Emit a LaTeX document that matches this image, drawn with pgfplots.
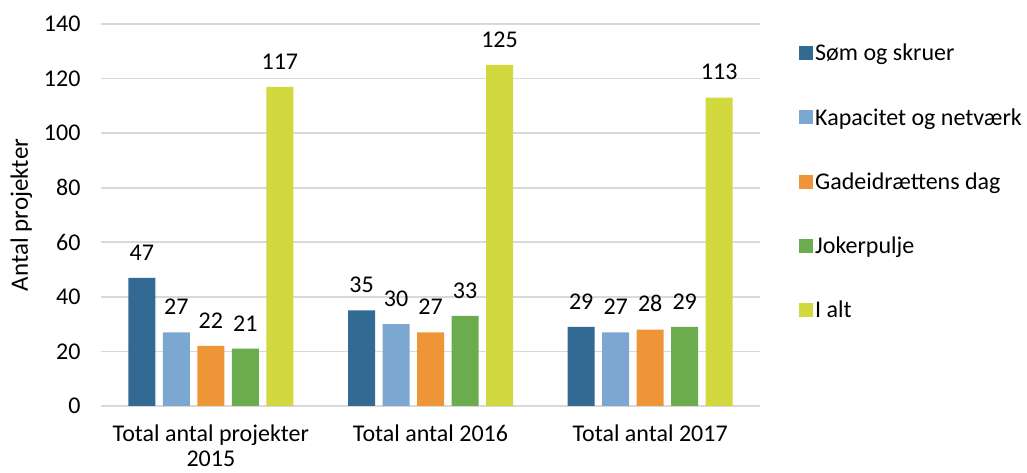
\documentclass[border=0pt]{standalone}
\usepackage{pgfplots}
\pgfplotsset{compat=1.18}
\usepackage{fontspec}
\setmainfont{Carlito}
\definecolor{c1}{HTML}{336A93}
\definecolor{c2}{HTML}{7BA7D0}
\definecolor{c3}{HTML}{EE9537}
\definecolor{c4}{HTML}{6AAC4E}
\definecolor{c5}{HTML}{D1D93F}
\definecolor{gridc}{HTML}{D9D9D9}
\pgfplotstableread{
x s1 s2 s3 s4 s5
0 47 27 22 21 117
1 35 30 27 33 125
2 29 27 28 29 113
}\datatable
\begin{document}
\begin{tikzpicture}
\useasboundingbox (-101pt,-67pt) rectangle (926pt,406pt);
\begin{axis}[
  scale only axis,
  width=659pt, height=382pt,
  at={(0,0)}, anchor=south west,
  ybar=7.5pt, bar width=27pt,
  xmin=-0.5, xmax=2.5,
  ymin=0, ymax=140,
  ytick={0,20,...,140},
  xtick=data,
  xticklabels={{Total antal projekter\\2015},{Total antal 2016},{Total antal 2017}},
  xticklabel style={align=center, font=\fontsize{24}{25}\selectfont, text=black, yshift=-15pt},
  yticklabel style={font=\fontsize{24}{25}\selectfont, text=black, xshift=-17pt},
  /pgf/number format/assume math mode=true,
  ylabel={Antal projekter},
  ylabel style={font=\fontsize{25}{30}\selectfont, yshift=5pt},
  ymajorgrids,
  grid style={gridc, line width=1.6pt},
  axis x line*=bottom,
  axis y line*=left,
  y axis line style={draw=none},
  x axis line style={gridc, line width=2pt, -},
  major tick length=0pt,
  tick style={draw=none},
  nodes near coords,
  nodes near coords style={font=\fontsize{24}{25}\selectfont, text=black, yshift=14pt},
  legend style={at={(1,1)}, anchor=north west, xshift=36pt, yshift=-16pt, draw=none, fill=none,
    font=\fontsize{24}{25}\selectfont, row sep=42pt, cells={anchor=west}},
  legend image code/.code={\fill[#1] (0pt,-7pt) rectangle (14pt,7pt);},
  clip=false,
]
\addplot[fill=c1, draw=none] table[x=x, y=s1] {\datatable};
\addplot[fill=c2, draw=none] table[x=x, y=s2] {\datatable};
\addplot[fill=c3, draw=none] table[x=x, y=s3] {\datatable};
\addplot[fill=c4, draw=none] table[x=x, y=s4] {\datatable};
\addplot[fill=c5, draw=none] table[x=x, y=s5] {\datatable};
\legend{Søm og skruer, Kapacitet og netværk, Gadeidrættens dag, Jokerpulje, I alt}
\end{axis}
\end{tikzpicture}
\end{document}
